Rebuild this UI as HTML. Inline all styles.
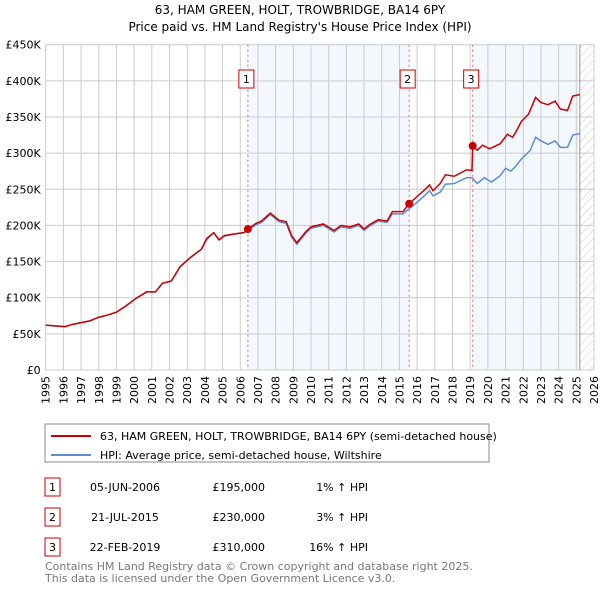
<!DOCTYPE html>
<html><head><meta charset="utf-8"><style>
body{margin:0;background:#fff;font-family:"DejaVu Sans","Liberation Sans",sans-serif;}
svg text{font-family:"DejaVu Sans","Liberation Sans",sans-serif;}
</style></head><body>
<svg id="chart" width="600" height="590" viewBox="0 0 600 590" xmlns="http://www.w3.org/2000/svg">
<defs><pattern id="hatch" patternUnits="userSpaceOnUse" width="6" height="6" patternTransform="rotate(45)"><line x1="0" y1="0" x2="0" y2="6" stroke="#ccc" stroke-width="1"/></pattern></defs>
<text x="300" y="14" text-anchor="middle" font-size="12">63, HAM GREEN, HOLT, TROWBRIDGE, BA14 6PY</text>
<text x="300" y="31" text-anchor="middle" font-size="12">Price paid vs. HM Land Registry's House Price Index (HPI)</text>
<g id="bg"></g><g id="grid"></g><g id="axes"></g><g id="series"></g><g id="marks"></g>
<g>
<rect x="45" y="424" width="444" height="38" fill="#fff" stroke="#888"/>
<line x1="51" y1="436" x2="91" y2="436" stroke="#cc0000" stroke-width="2"/>
<text x="100" y="440" font-size="11">63, HAM GREEN, HOLT, TROWBRIDGE, BA14 6PY (semi-detached house)</text>
<line x1="51" y1="455" x2="91" y2="455" stroke="#5b8fd0" stroke-width="2"/>
<text x="100" y="459" font-size="11">HPI: Average price, semi-detached house, Wiltshire</text>
</g>
<g id="table" font-size="11"></g>
<text x="45" y="570" font-size="11" fill="#777">Contains HM Land Registry data © Crown copyright and database right 2025.</text>
<text x="45" y="582" font-size="11" fill="#777">This data is licensed under the Open Government Licence v3.0.</text>
</svg>
<script>
const yearTicks=[1995,1996,1997,1998,1999,2000,2001,2002,2003,2004,2005,2006,2007,2008,2009,2010,2011,2012,2013,2014,2015,2016,2017,2018,2019,2020,2021,2022,2023,2024,2025,2026];
const priceTicks=[0,50000,100000,150000,200000,250000,300000,350000,400000,450000];
const priceLabels=["£0","£50K","£100K","£150K","£200K","£250K","£300K","£350K","£400K","£450K"];
const hpiYears=[1995.0,1995.5,1996.1,1996.5,1996.9,1997.5,1998.0,1998.5,1999.0,1999.5,2000.1,2000.7,2001.2,2001.6,2002.1,2002.6,2003.2,2003.8,2004.1,2004.5,2004.8,2005.1,2005.6,2006.2,2006.4,2006.9,2007.2,2007.7,2008.2,2008.6,2008.9,2009.2,2009.7,2010.0,2010.7,2011.3,2011.7,2012.2,2012.7,2013.0,2013.3,2013.8,2014.3,2014.6,2015.2,2015.55,2016.0,2016.5,2016.7,2016.9,2017.3,2017.6,2018.1,2018.8,2019.1,2019.4,2019.8,2020.2,2020.7,2021.0,2021.3,2021.5,2021.9,2022.4,2022.7,2023.0,2023.4,2023.8,2024.1,2024.5,2024.8,2025.2];
const hpiValues=[62000,61000,60000,63000,65000,68000,73000,76000,80000,88000,99000,108000,108000,120000,123000,143000,156000,167000,180000,190000,180000,185000,188000,190000,193000,201000,204000,215000,205000,203000,184000,174000,189000,196000,200000,191000,198000,196000,200000,193000,199000,206000,204000,216000,216000,223000,232000,243000,248000,241000,246000,257000,258000,266000,266000,258000,266000,260000,269000,279000,275000,280000,292000,304000,322000,317000,312000,317000,308000,308000,325000,327000];
const redYears=[1995.0,1995.5,1996.1,1996.5,1996.9,1997.5,1998.0,1998.5,1999.0,1999.5,2000.1,2000.7,2001.2,2001.6,2002.1,2002.6,2003.2,2003.8,2004.1,2004.5,2004.8,2005.1,2005.6,2006.2,2006.43,2006.9,2007.2,2007.7,2008.2,2008.6,2008.9,2009.2,2009.7,2010.0,2010.7,2011.3,2011.7,2012.2,2012.7,2013.0,2013.3,2013.8,2014.3,2014.6,2015.2,2015.55,2016.0,2016.5,2016.7,2016.9,2017.3,2017.6,2018.1,2018.8,2019.1,2019.14,2019.4,2019.7,2020.1,2020.7,2021.1,2021.4,2021.6,2021.9,2022.3,2022.7,2023.0,2023.4,2023.8,2024.1,2024.5,2024.8,2025.2];
const redValues=[62000,61000,60000,63000,65000,68000,73000,76000,80000,88000,99000,108000,108000,120000,123000,143000,156000,167000,182000,190000,180000,186000,188000,190000,195000,203000,206000,217000,207000,205000,186000,176000,191000,198000,202000,193000,200000,198000,202000,195000,201000,208000,206000,219000,219000,230000,240000,251000,256000,248000,258000,270000,268000,277000,276000,310000,304000,311000,306000,313000,326000,322000,330000,344000,354000,377000,370000,367000,372000,361000,359000,379000,381000];
const saleYears=[2006.43,2015.55,2019.14];
const salePrices=[195000,230000,310000];
const saleLabels=["1","2","3"];
const saleDates=["05-JUN-2006","21-JUL-2015","22-FEB-2019"];
const salePriceText=["£195,000","£230,000","£310,000"];
const saleHpiText=["1% ↑ HPI","3% ↑ HPI","16% ↑ HPI"];

const NS="http://www.w3.org/2000/svg";
const L=45.7,R=594,T=44.7,B=370;
const X=y=>L+(y-1995)*(R-L)/31;
const Y=v=>B-v*(B-T)/450000;
function mk(tag,attrs,parent){const e=document.createElementNS(NS,tag);for(const k in attrs)e.setAttribute(k,attrs[k]);parent.appendChild(e);return e;}
const bg=document.getElementById('bg'),grid=document.getElementById('grid'),axes=document.getElementById('axes'),series=document.getElementById('series'),marks=document.getElementById('marks'),table=document.getElementById('table');
let r=mk('rect',{x:X(saleYears[0]),y:T,width:X(saleYears[1])-X(saleYears[0]),height:B-T,fill:'#eef3fd',opacity:0.7},bg);


r=mk('rect',{x:X(saleYears[2]),y:T,width:X(2025.2)-X(saleYears[2]),height:B-T,fill:'#eef3fd',opacity:0.7},bg);


r=mk('rect',{x:X(2025.2),y:T,width:R-X(2025.2),height:B-T,fill:'url(#hatch)'},bg);


yearTicks.forEach(y=>{const l=mk('line',{x1:X(y),x2:X(y),y1:T,y2:B,stroke:'#ccc','stroke-width':1},grid);


const t=mk('text',{x:0,y:0,'font-size':11,'text-anchor':'end',transform:`translate(${X(y)+4},${B+6}) rotate(-90)`},axes);
t.textContent=y;

});
priceTicks.forEach((p,i)=>{const l=mk('line',{x1:L,x2:R,y1:Y(p),y2:Y(p),stroke:'#ccc','stroke-width':1},grid);


const t=mk('text',{x:L-5,y:Y(p)+4,'font-size':11,'text-anchor':'end'},axes);
t.textContent=priceLabels[i];

});
const vl=mk('line',{x1:X(2025.2),x2:X(2025.2),y1:T,y2:B,stroke:'#999','stroke-width':1},grid);


saleYears.forEach((y,i)=>{const l=mk('line',{x1:X(y),x2:X(y),y1:T,y2:B,stroke:'#e66','stroke-width':1,'stroke-dasharray':'2,3'},grid);

});
const hp=mk('polyline',{points:hpiYears.map((y,i)=>X(y)+','+Y(hpiValues[i])).join(' '),fill:'none',stroke:'#5b8fd0','stroke-width':1.5},series);


const rp=mk('polyline',{points:redYears.map((y,i)=>X(y)+','+Y(redValues[i])).join(' '),fill:'none',stroke:'#cc0000','stroke-width':1.5},series);


saleYears.forEach((y,i)=>{const c=mk('circle',{cx:X(y),cy:Y(salePrices[i]),r:4,fill:'#cc0000'},marks);


const bx=mk('rect',{x:X(y)-9,y:70,width:15,height:18,fill:'#fff',stroke:'#cc0000'},marks);


const t=mk('text',{x:X(y)-1.5,y:83,'font-size':11,'text-anchor':'middle'},marks);
t.textContent=saleLabels[i];


const ty=478+i*30;
const tb=mk('rect',{x:45,y:ty,width:15,height:18,fill:'#fff',stroke:'#cc0000'},table);


const tn=mk('text',{x:52.5,y:ty+13,'text-anchor':'middle'},table);
tn.textContent=saleLabels[i];


const td=mk('text',{x:125,y:ty+13,'text-anchor':'middle'},table);
td.textContent=saleDates[i];


const tp=mk('text',{x:265,y:ty+13,'text-anchor':'end'},table);
tp.textContent=salePriceText[i];


const th=mk('text',{x:368,y:ty+13,'text-anchor':'end'},table);
th.textContent=saleHpiText[i];

});
</script>
</body></html>
